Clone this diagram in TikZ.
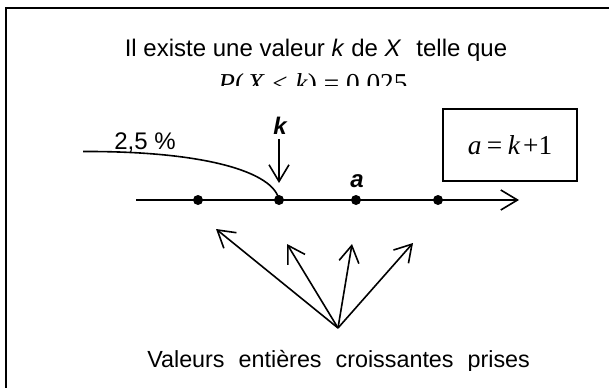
\documentclass[tikz,border=0pt]{standalone}
\usepackage{fontspec}
\setmainfont{Liberation Sans}
\newfontfamily\tnr{Liberation Serif}
\usetikzlibrary{arrows.meta}
\tikzset{
  ln/.style={line width=1.2pt, line cap=butt},
  openarrow/.style={ln, -{Straight Barb[length=12.5pt,width=15pt,line width=1.2pt]}},
  dotnode/.style={circle, fill=black, inner sep=0pt, minimum size=7.5pt},
  txt/.style={inner sep=0pt, font=\fontsize{18pt}{20pt}\selectfont},
  mtxt/.style={inner sep=0pt, font=\fontsize{20.5pt}{22pt}\selectfont\tnr},
}
\begin{document}
\begin{tikzpicture}[x=0.75pt,y=-0.75pt]
\useasboundingbox (0,0) rectangle (609,388);
\fill[white] (0,0) rectangle (609,388);
\begin{scope}
\clip (0,0) rectangle (609,388);
% outer frame (continues beyond the picture)
\draw[line width=1.3pt] (6,420) -- (6,8) -- (640,8);
\end{scope}
% title
\node[txt, anchor=base] (t1) at (316,57) {Il existe une valeur \textit{k} de \textit{X}\hspace{0.35em} telle que};
\begin{scope}
\clip (0,0) rectangle (609,85.5);
\node[mtxt, anchor=base] (t2) at (313,92.5) {\textit{P}(\hspace{0.12em}\textit{X}\hspace{0.28em}≤\hspace{0.28em}\textit{k}) = 0,025};
\end{scope}
% equation box
\node[draw, line width=1.1pt, minimum width=100.5pt, minimum height=54pt, inner sep=0pt, mtxt] (eq) at (510,145) {\raisebox{-2.5pt}{\textit{a}\hspace{0.2em}=\hspace{0.2em}\textit{k}\hspace{0.1em}+1}};
% number line
\coordinate (ls) at (136,200);
\coordinate (le) at (519,200);
\draw[openarrow] (ls) -- (le);
\node[dotnode] (d1) at (198,200) {};
\node[dotnode] (d2) at (279,200) {};
\node[dotnode] (d3) at (356,200) {};
\node[dotnode] (d4) at (438,200) {};
% labels
\node[txt, anchor=base, font=\fontsize{18pt}{20pt}\selectfont\bfseries\itshape] (kl) at (280,135) {k};
\node[txt, anchor=base, font=\fontsize{18pt}{20pt}\selectfont\bfseries\itshape] (al) at (357,187) {a};
\node[txt, anchor=base] (pct) at (145,150) {2,5 \%};
% k arrow
\coordinate (ktop) at (279,139);
\coordinate (ktip) at (279,183);
\draw[openarrow] (ktop) -- (ktip);
% tail curve
\coordinate (tail) at (83,151.5);
\draw[ln] (tail) .. controls (205,151) and (274,172) .. (d2.center);
% bottom arrows
\coordinate (src) at (338,328);
\coordinate (a1) at (216,229);
\coordinate (a2) at (287,244);
\coordinate (a3) at (352,244);
\coordinate (a4) at (413,243);
\foreach \t in {a1,a2,a3,a4} \draw[openarrow] (src) -- (\t);
% bottom text
\begin{scope}
\clip (0,0) rectangle (609,370);
\node[txt, anchor=base west, font=\fontsize{17.5pt}{20pt}\selectfont] (bt) at (147,367) {\makebox[287pt][s]{Valeurs entières croissantes prises}};
\end{scope}
\end{tikzpicture}
\end{document}
